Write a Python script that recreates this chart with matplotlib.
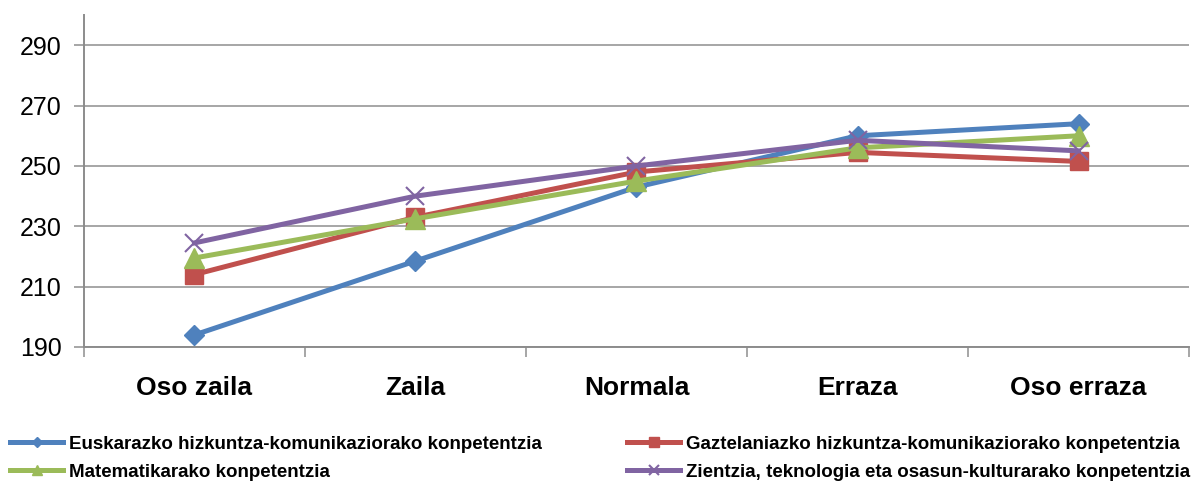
import numpy as np
import matplotlib
matplotlib.use("Agg")
import matplotlib.pyplot as plt

plt.rcParams['font.family'] = ['Liberation Sans', 'DejaVu Sans']

# categories and values
categories = ['Oso zaila', 'Zaila', 'Normala', 'Erraza', 'Oso erraza']
euskara = [194, 218.5, 243, 260, 264]
gaztelania = [214, 233, 248, 254.5, 251.5]
matematika = [219.5, 232.5, 245, 256, 260]
zientzia = [224.5, 240, 250, 258.5, 255]

series_names = [
    'Euskarazko hizkuntza-komunikaziorako konpetentzia',
    'Gaztelaniazko hizkuntza-komunikaziorako konpetentzia',
    'Matematikarako konpetentzia',
    'Zientzia, teknologia eta osasun-kulturarako konpetentzia',
]

fig = plt.figure(figsize=(11.98, 4.87), dpi=100)
ax = fig.add_axes([0.0701, 0.2875, 0.9224, 0.6815])

x = np.arange(len(categories))
grid_col = '#A6A6A6'

l1, = ax.plot(x, euskara, color='#4F81BD', lw=3.6, marker='D', ms=10, zorder=3)
l2, = ax.plot(x, gaztelania, color='#C0504D', lw=3.6, marker='s', ms=13, zorder=3)
l3, = ax.plot(x, matematika, color='#9BBB59', lw=3.6, marker='^', ms=14, zorder=4)
l4, = ax.plot(x, zientzia, color='#8064A2', lw=3.6, marker='x', ms=13, mew=1.5, zorder=5)

ax.set_xlim(-0.5, len(categories) - 0.5)
ax.set_ylim(190, 300)
ax.set_yticks(np.arange(190, 291, 20))
ax.yaxis.grid(True, color=grid_col, lw=1.4)
ax.set_axisbelow(True)

ax.set_xticks(x)
ax.set_xticklabels(categories, fontsize=19, fontweight='bold')
ax.set_xticks(np.arange(-0.5, len(categories), 1), minor=True)
ax.tick_params(axis='x', which='major', length=0, pad=21)
ax.tick_params(axis='x', which='minor', length=7, width=1.4, color=grid_col)
ax.tick_params(axis='y', length=7, width=1.4, color=grid_col, labelsize=18, pad=9)

for side in ['top', 'right']:
    ax.spines[side].set_visible(False)
for side in ['left', 'bottom']:
    ax.spines[side].set_color('#8C8C8C')
    ax.spines[side].set_linewidth(1.4)

fig.legend([l1, l3, l2, l4], [series_names[0], series_names[2], series_names[1], series_names[3]],
           ncol=2, loc='upper left', bbox_to_anchor=(0.0084, 0.106), frameon=False,
           prop={'size': 13.5, 'weight': 'bold'}, handlelength=2.83, handletextpad=0.32,
           columnspacing=4.55, labelspacing=0.6, markerscale=0.55, borderaxespad=0, borderpad=0)

fig.savefig('out.png', dpi=100)
